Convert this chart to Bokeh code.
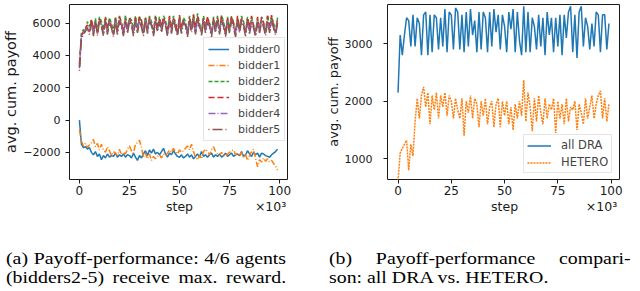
from bokeh.plotting import figure
from bokeh.models import Legend, LegendItem, Div, Range1d, FixedTicker, LinearAxis
from bokeh.layouts import row, column
from bokeh.embed import file_html
from bokeh.resources import INLINE

# x positions in units of 10^3 steps
steps = list(range(100))

bidder0 = [0, -1500, -1700, -1650, -1800, -1700, -2000, -2150, -1950, -2250,
           -2100, -2450, -2200, -2350, -2100, -2300, -2200, -2250, -2050, -2300,
           -2150, -2250, -2100, -2300, -2150, -2200, -2350, -2050, -2300, -2500,
           -2200, -2350, -2100, -1900, -2200, -1850, -2050, -1800, -2100, -2000,
           -2150, -1950, -1750, -2100, -2300, -2050, -2150, -1900, -2100, -2250,
           -2300, -2150, -2350, -2250, -2100, -2300, -2150, -2400, -2250, -2100,
           -2300, -1950, -2250, -2150, -2300, -2150, -2050, -2300, -2150, -2250,
           -2100, -2300, -2200, -2050, -2250, -2150, -2050, -2250, -2150, -2100,
           -2200, -1950, -2250, -2150, -1900, -2100, -2250, -2000, -2150, -2050,
           -2300, -2050, -2100, -2200, -2250, -2300, -2150, -2050, -1950, -1800]
bidder1 = [-600, -1300, -1600, -1450, -1700, -1550, -1400, -1200, -1650, -1450,
           -1850, -1500, -1850, -2000, -1650, -1900, -2200, -1950, -2050, -2200,
           -1800, -2150, -2000, -2100, -1800, -1600, -1900, -2050, -1500, -1400,
           -1250, -1700, -2300, -2050, -2400, -2100, -2500, -2250, -2400, -2250,
           -2150, -2350, -2100, -2200, -2050, -1850, -2000, -1750, -1950, -2100,
           -1850, -2000, -1900, -1750, -1600, -1850, -1500, -1950, -2300, -2450,
           -2200, -2400, -1950, -1800, -1950, -2150, -1850, -1650, -1950, -2100,
           -2200, -2000, -2150, -2250, -2100, -2000, -1900, -1850, -2150, -2050,
           -2250, -2000, -2300, -2150, -2500, -2200, -1950, -1800, -2400, -2900,
           -2450, -2600, -2350, -2550, -2400, -2600, -2500, -2700, -2850, -3100]
bidder2 = [3300, 5400, 5600, 5500, 6100, 5800, 6200, 5400, 6300, 5500,
           6400, 6100, 5600, 6400, 5500, 6350, 6000, 5450, 6400, 5600,
           6450, 5900, 5500, 6500, 5650, 6350, 6200, 5550, 6450, 5700,
           6450, 6000, 5500, 6400, 5600, 6450, 6100, 5500, 6500, 5750,
           6400, 5600, 6450, 6200, 5500, 6400, 5650, 6450, 5900, 5450,
           6400, 5600, 6350, 6100, 5400, 6450, 5700, 6500, 5500, 6600,
           6000, 5500, 6450, 5650, 6350, 6050, 5400, 6400, 5700, 6450,
           5500, 6500, 6100, 5450, 6400, 5600, 6450, 5900, 5400, 6350,
           5650, 6450, 6100, 5450, 6400, 5550, 6350, 5900, 5400, 6300,
           5600, 6400, 6050, 5450, 6500, 5700, 6400, 6000, 5500, 6350]
bidder3 = [3500, 5200, 5500, 5700, 5900, 5450, 6250, 5600, 6100, 5350,
           6300, 5800, 5400, 6350, 5650, 6200, 5800, 5300, 6300, 5500,
           6400, 6100, 5400, 6250, 5600, 6300, 5950, 5400, 6350, 5500,
           6400, 6200, 5400, 6300, 5700, 6350, 5900, 5350, 6400, 5600,
           6300, 5800, 6350, 6000, 5400, 6450, 5600, 6300, 6100, 5350,
           6500, 5700, 6200, 5900, 5300, 6350, 5600, 6550, 5700, 6450,
           5800, 5400, 6300, 5800, 6400, 5900, 5300, 6300, 5600, 6350,
           5700, 6400, 5900, 5350, 6300, 5700, 6400, 6050, 5350, 6450,
           5600, 6300, 5950, 5400, 6350, 5700, 6450, 5800, 5300, 6400,
           5500, 6350, 6000, 5400, 6450, 5600, 6500, 5850, 5450, 6300]
bidder4 = [3200, 5300, 5350, 5600, 5800, 5500, 6000, 5450, 6050, 5400,
           6100, 5900, 5350, 6150, 5500, 6100, 5850, 5300, 6150, 5450,
           6200, 5800, 5350, 6200, 5500, 6150, 6000, 5350, 6200, 5550,
           6150, 5850, 5300, 6200, 5500, 6200, 5950, 5300, 6200, 5600,
           6150, 5500, 6200, 5950, 5300, 6150, 5500, 6200, 5800, 5300,
           6150, 5450, 6100, 5950, 5300, 6200, 5550, 6200, 5400, 6250,
           5850, 5350, 6150, 5550, 6100, 5900, 5300, 6150, 5500, 6200,
           5400, 6200, 5900, 5300, 6150, 5500, 6200, 5800, 5300, 6100,
           5500, 6200, 5900, 5350, 6150, 5450, 6100, 5800, 5300, 6100,
           5500, 6150, 5850, 5350, 6200, 5550, 6150, 5800, 5350, 6100]
bidder5 = [3050, 5000, 5300, 5500, 5700, 5300, 6000, 5200, 6050, 5250,
           6150, 5800, 5200, 6100, 5300, 6050, 5700, 5150, 6100, 5300,
           6150, 5750, 5200, 6150, 5350, 6100, 5900, 5200, 6150, 5400,
           6100, 5750, 5200, 6150, 5350, 6100, 5850, 5200, 6150, 5450,
           6100, 5400, 6150, 5850, 5200, 6100, 5350, 6150, 5700, 5200,
           6100, 5350, 6050, 5850, 5150, 6150, 5400, 6150, 5300, 6200,
           5750, 5250, 6100, 5400, 6050, 5800, 5150, 6100, 5400, 6150,
           5300, 6150, 5800, 5150, 6100, 5350, 6150, 5700, 5150, 6050,
           5400, 6150, 5800, 5200, 6100, 5350, 6050, 5700, 5150, 6050,
           5400, 6100, 5750, 5200, 6150, 5400, 6100, 5700, 5250, 6050]

all_dra = [2150, 3150, 2800, 3150, 3450, 3400, 2950, 3500, 2950, 3450,
           3350, 2800, 3500, 3550, 2800, 3500, 2850, 3500, 3450, 2900,
           3450, 2950, 3600, 2850, 3550, 3500, 2900, 3620, 3550, 2900,
           3500, 2850, 3550, 2950, 3600, 3150, 3400, 2850, 3550, 2900,
           3550, 3450, 2850, 3550, 2950, 3600, 3200, 3500, 2900, 3500,
           3300, 2850, 3550, 3250, 3600, 2850, 3550, 3050, 2800, 3650,
           2850, 3550, 2850, 3450, 3300, 2900, 3500, 2950, 3450, 2800,
           3550, 3150, 3450, 2850, 3450, 2950, 3500, 2800, 3500, 3100,
           3550, 3650, 2850, 3500, 2750, 3550, 3650, 2950, 3450, 3300,
           2900, 3350, 2950, 3550, 3500, 2850, 3500, 3500, 2900, 3350]
hetero = [620, 1100, 1180, 1250, 1320, 800, 1250, 1050, 1650, 2050,
          1700, 2100, 2250, 1900, 2150, 1600, 2100, 1850, 2150, 1700,
          2100, 1900, 2150, 1750, 2100, 2000, 1700, 2050, 1850, 1700,
          2050, 1400, 2000, 1800, 2100, 1700, 2050, 1950, 1550, 2000,
          1750, 2050, 1600, 1900, 2000, 1550, 1950, 2050, 1550, 2000,
          1750, 2000, 1600, 1900, 1500, 1950, 1700, 2000, 1750, 2370,
          1650, 2150, 1900, 1480, 2050, 1650, 2100, 1800, 1600, 2050,
          1700, 1950, 1850, 2050, 1450, 2000, 1700, 1950, 1600, 2050,
          1650, 1900, 1850, 2000, 1500, 1950, 1800, 1600, 2050, 1700,
          1900, 2100, 1700, 1950, 2100, 2180, 1700, 2050, 1650, 1950]

left_names = ["bidder0", "bidder1", "bidder2", "bidder3", "bidder4", "bidder5"]
right_names = ["all DRA", "HETERO"]
x_ticks = [0, 25, 50, 75, 100]
left_y_ticks = [-2000, 0, 2000, 4000, 6000]
right_y_ticks = [1000, 2000, 3000]
x_label = "step"
x_scale_label = "×10³"
y_label = "avg. cum. payoff"

TAB = ["#1f77b4", "#ff7f0e", "#2ca02c", "#d62728", "#9467bd", "#8c564b"]
DASHES = ["solid", "6 2 1 2", "4 2", "6 3", "7 2 1 2", "1 3 10 3"]
FONT = "DejaVu Sans"
INK = "#1a1a1a"


def style(p, yticks, ylabel_size, ytick_standoff):
    p.grid.visible = False
    p.outline_line_color = INK
    p.outline_line_width = 1
    p.background_fill_color = "white"
    p.border_fill_color = "white"
    for ax in (p.xaxis[0], p.yaxis[0]):
        ax.axis_line_color = None
        ax.major_tick_line_color = INK
        ax.major_tick_out = 4
        ax.major_tick_in = 0
        ax.minor_tick_line_color = None
        ax.major_label_text_font = FONT
        ax.major_label_text_font_size = "11px"
        ax.major_label_text_color = INK
        ax.axis_label_text_font = FONT
        ax.axis_label_text_font_style = "normal"
        ax.axis_label_text_color = INK
    p.xaxis[0].ticker = FixedTicker(ticks=x_ticks)
    p.xaxis[0].major_label_text_font_size = "12px"
    p.yaxis[0].ticker = FixedTicker(ticks=yticks)
    p.yaxis[0].axis_label = y_label
    p.yaxis[0].axis_label_text_font_size = ylabel_size
    p.xaxis[0].major_label_standoff = 2
    p.yaxis[0].major_label_standoff = ytick_standoff
    p.yaxis[0].axis_label_standoff = 1
    # second row under the tick labels: "step" (centred) and the ×10³ multiplier
    ax2 = LinearAxis(ticker=FixedTicker(ticks=[50, 95.5]),
                     major_label_overrides={50: x_label, 95.5: x_scale_label},
                     axis_line_color=None, major_tick_line_color=None, minor_tick_line_color=None,
                     major_tick_out=0, major_tick_in=0, major_label_standoff=1,
                     major_label_text_font=FONT, major_label_text_font_size="12.5px",
                     major_label_text_color=INK)
    p.add_layout(ax2, "below")


p1 = figure(width=312, height=229, output_backend="svg", toolbar_location=None,
            x_range=Range1d(-4.95, 103.95), y_range=Range1d(-3681, 7159),
            min_border_left=60, min_border_right=25, min_border_top=4, min_border_bottom=48)
style(p1, left_y_ticks, "14.5px", 5)
items = []
for name, ys, c, d in zip(left_names, [bidder0, bidder1, bidder2, bidder3, bidder4, bidder5], TAB, DASHES):
    r = p1.line(steps, ys, line_color=c, line_width=1.5, line_dash=d)
    items.append(LegendItem(label=name, renderers=[r]))

leg1 = Legend(items=items, location=(134, 38), label_text_font=FONT, label_text_font_size="11px",
              glyph_width=21, glyph_height=14, label_height=14, spacing=2, padding=4, margin=0,
              label_standoff=9, border_line_color="#cccccc", background_fill_alpha=0.85)
p1.add_layout(leg1)

p2 = figure(width=312, height=229, output_backend="svg", toolbar_location=None,
            x_range=Range1d(-4.95, 103.95), y_range=Range1d(641, 3680),
            min_border_left=75, min_border_right=5, min_border_top=0, min_border_bottom=50)
style(p2, right_y_ticks, "13px", 11)
r1 = p2.line(steps, all_dra, line_color=TAB[0], line_width=1.5)
r2 = p2.line(steps, hetero, line_color=TAB[1], line_width=1.5, line_dash="2 1")
leg2 = Legend(items=[LegendItem(label=right_names[0], renderers=[r1]),
                     LegendItem(label=right_names[1], renderers=[r2])],
              location=(136, 6), label_text_font=FONT, label_text_font_size="11.5px",
              glyph_width=24, glyph_height=13, label_height=13, spacing=3, padding=3, margin=0,
              label_standoff=10, border_line_color="#cccccc", background_fill_alpha=0.85)
p2.add_layout(leg2)

CAP = ("font-family:'Liberation Serif','Times New Roman',serif;font-size:17.5px;line-height:19px;"
       "color:#000;transform:scaleX(1.134);transform-origin:0 0;white-space:nowrap;padding-top:15px;")
J = "text-align:justify;text-align-last:justify;"
cap_a = Div(width=312, height=60, text=(
    f'<div style="{CAP}margin-left:1px;width:247px;">'
    f'<div style="{J}">(a) Payoff-performance: 4/6 agents</div>'
    f'<div style="{J}">(bidders2-5) receive max. reward.</div>'
    '</div>'))
cap_b = Div(width=312, height=60, text=(
    f'<div style="{CAP}margin-left:2px;width:266px;">'
    f'<div style="{J}">(b) Payoff-performance compari-</div>'
    '<div>son: all DRA vs. HETERO.</div>'
    '</div>'))

layout = column(row(p1, p2), row(cap_a, cap_b))
open("out.html", "w").write(file_html(layout, INLINE))
